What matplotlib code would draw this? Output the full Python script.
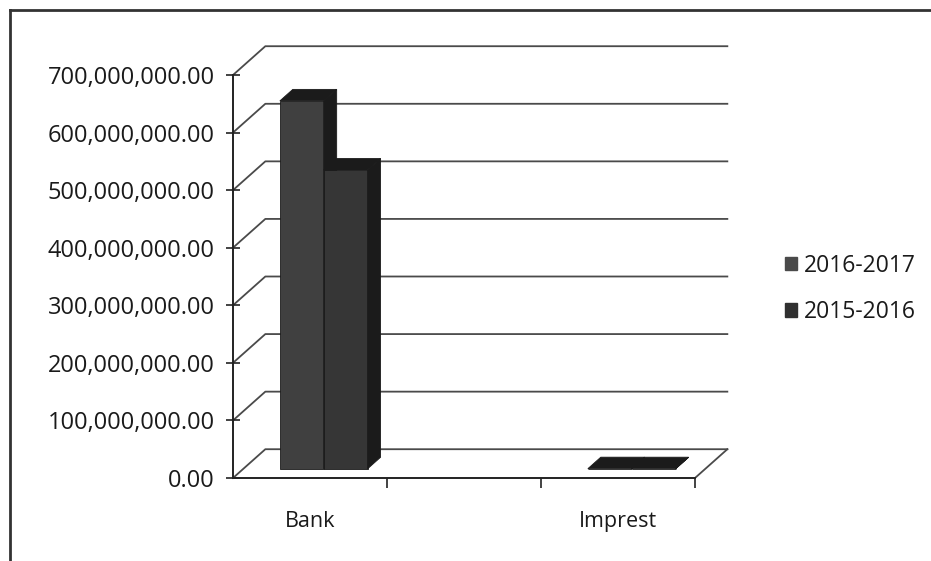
import numpy as np
import matplotlib
matplotlib.use("Agg")
import matplotlib.pyplot as plt
from matplotlib.patches import Polygon, Patch
from matplotlib.lines import Line2D
from matplotlib.ticker import FuncFormatter, MultipleLocator

# --- data ---
categories = ["Bank", "", "Imprest"]
series_names = ["2016-2017", "2015-2016"]
values_2016_2017 = [639_000_000, np.nan, 150_000]
values_2015_2016 = [519_000_000, np.nan, 120_000]
y_max = 700_000_000
y_step = 100_000_000

plt.rcParams['font.family'] = ['Open Sans', 'DejaVu Sans']

# --- fake 3D (Excel style) geometry, in data units ---
DX = 0.21          # depth shift along x (category units)
DY = 50_000_000    # depth shift along y (value units)
f0, f1 = 0.32, 0.72  # bar depth slice (fraction of wall depth)
bar_w = 0.285
group_shift = 0.022

front_cols = ["#404040", "#363636"]
dark_col = "#1b1b1b"
legend_cols = ["#4a4a4a", "#303030"]
grid_col = "#4a4a4a"

fig = plt.figure(figsize=(9.31, 5.61), dpi=100)
W, H = 931, 561
ax = fig.add_axes([233 / W, (H - 478) / H, 462 / W, 403 / H])
ax.set_xlim(0, len(categories))
ax.set_ylim(0, y_max)

# back wall gridlines with diagonals from the front axis
for v in np.arange(0, y_max + 1, y_step):
    ax.plot([0, DX, len(categories) + DX], [v, v + DY, v + DY],
            color=grid_col, lw=1.3, clip_on=False, zorder=1)
# floor right edge
ax.plot([len(categories), len(categories) + DX], [0, DY],
        color=grid_col, lw=1.3, clip_on=False, zorder=1)


def draw_bar(x0, h, face):
    x1 = x0 + bar_w
    a, b = f0, f1
    front = [(x0 + a * DX, a * DY), (x1 + a * DX, a * DY),
             (x1 + a * DX, h + a * DY), (x0 + a * DX, h + a * DY)]
    side = [(x1 + a * DX, a * DY), (x1 + b * DX, b * DY),
            (x1 + b * DX, h + b * DY), (x1 + a * DX, h + a * DY)]
    top = [(x0 + a * DX, h + a * DY), (x1 + a * DX, h + a * DY),
           (x1 + b * DX, h + b * DY), (x0 + b * DX, h + b * DY)]
    for pts, col in [(front, face), (side, dark_col), (top, dark_col)]:
        ax.add_patch(Polygon(pts, closed=True, facecolor=col,
                             edgecolor=dark_col, lw=0.6,
                             clip_on=False, zorder=3))


for i in range(len(categories)):
    for k, vals in enumerate([values_2016_2017, values_2015_2016]):
        v = vals[i]
        if np.isnan(v):
            continue
        x0 = i + 0.5 + group_shift - bar_w + k * bar_w
        draw_bar(x0, v, front_cols[k])

# axes styling
for s in ["top", "right"]:
    ax.spines[s].set_visible(False)
for s in ["left", "bottom"]:
    ax.spines[s].set_color("#222222")
    ax.spines[s].set_linewidth(1.4)
    ax.spines[s].set_zorder(2)

ax.yaxis.set_major_locator(MultipleLocator(y_step))
ax.yaxis.set_major_formatter(FuncFormatter(lambda v, p: f"{v:,.2f}"))
ax.tick_params(axis="y", direction="inout", length=10, width=1.2,
               colors="#222222", labelsize=17, pad=8)
ax.tick_params(axis="y", labelcolor="#1a1a1a")

ax.set_xticks(range(1, len(categories) + 1))
ax.set_xticklabels([])
ax.tick_params(axis="x", which="major", direction="out", length=7,
               width=1.2, colors="#222222")
ax.set_xticks(np.arange(len(categories)) + 0.5, minor=True)
ax.set_xticklabels(categories, minor=True)
ax.tick_params(axis="x", which="minor", length=0, pad=24,
               labelsize=15.5, labelcolor="#1a1a1a")
ax.patch.set_alpha(0)

handles = [Patch(facecolor=c, edgecolor=c) for c in legend_cols]
fig.legend(handles, series_names, loc="center left",
           bbox_to_anchor=(764 / W, 1 - 289 / H), frameon=False,
           fontsize=16.5, handlelength=0.55, handleheight=0.55,
           handletextpad=0.3, labelspacing=1.0, labelcolor="#1a1a1a")

# outer chart border (only top and left edges visible in the scan)
fig.add_artist(Line2D([10 / W, 1], [1 - 10 / H, 1 - 10 / H],
                      transform=fig.transFigure, color="#333333", lw=2))
fig.add_artist(Line2D([10 / W, 10 / W], [0, 1 - 10 / H],
                      transform=fig.transFigure, color="#333333", lw=2))

fig.savefig("out.png", dpi=100)
